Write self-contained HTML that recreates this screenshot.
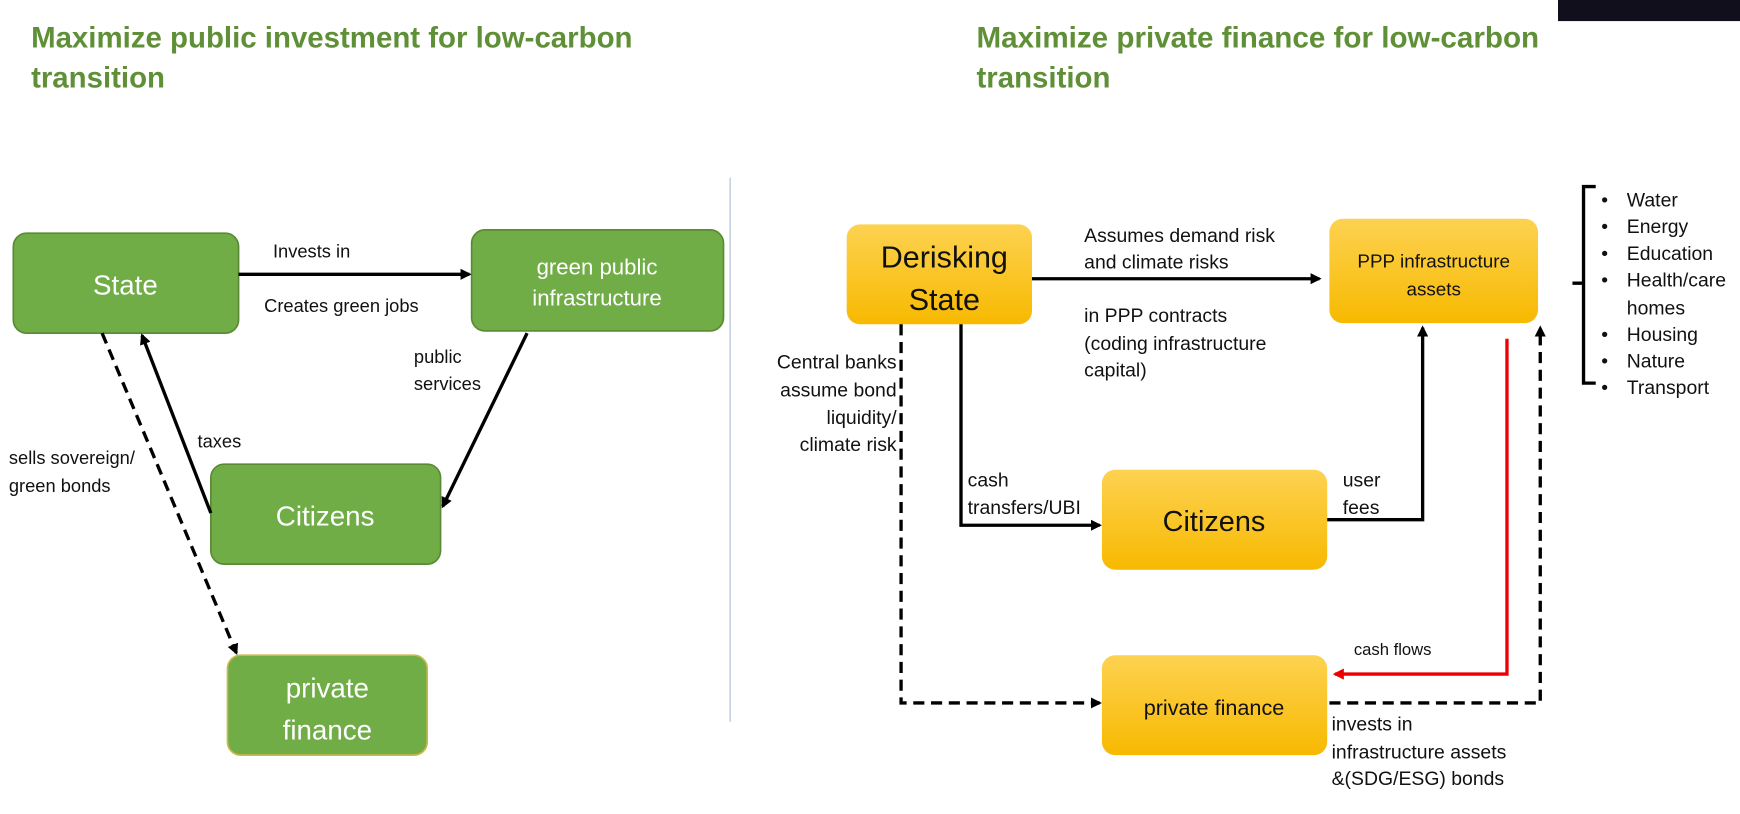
<!DOCTYPE html>
<html><head><meta charset="utf-8"><style>
html,body{margin:0;padding:0;background:#fff;}
svg{display:block;}
text{font-family:"Liberation Sans",sans-serif;}
</style></head><body>
<svg width="1740" height="814" viewBox="0 0 1568 733" preserveAspectRatio="none" xmlns="http://www.w3.org/2000/svg">
<defs>
<linearGradient id="y" x1="0" y1="0" x2="0" y2="1"><stop offset="0" stop-color="#fdd251"/><stop offset="1" stop-color="#f7b900"/></linearGradient>
<marker id="a" markerWidth="10" markerHeight="10" refX="8" refY="5" orient="auto" markerUnits="userSpaceOnUse"><path d="M0,0 L10,5 L0,10 z" fill="#000"/></marker>
<marker id="r" markerWidth="10" markerHeight="10" refX="8" refY="5" orient="auto" markerUnits="userSpaceOnUse"><path d="M0,0 L10,5 L0,10 z" fill="#e00"/></marker>
</defs>
<rect x="1404" y="0" width="164" height="19" fill="#120f1c"/>
<g fill="#5f8f36" font-weight="bold" font-size="26.5">
<text x="28" y="43" textLength="542" lengthAdjust="spacingAndGlyphs">Maximize public investment for low-carbon</text>
<text x="28" y="79">transition</text>
<text x="880" y="43" textLength="507" lengthAdjust="spacingAndGlyphs">Maximize private finance for low-carbon</text>
<text x="880" y="79">transition</text>
</g>
<line x1="658" y1="160" x2="658" y2="650" stroke="#c8d3e0" stroke-width="1.5"/>
<g fill="#70ad47" stroke="#5a8a35" stroke-width="1.5">
<rect x="12" y="210" width="203" height="90" rx="12"/>
<rect x="425" y="207" width="227" height="91" rx="12"/>
<rect x="190" y="418" width="207" height="90" rx="12"/>
<rect x="205" y="590" width="180" height="90" rx="12" stroke="#c9b84a"/>
</g>
<g fill="#fff" text-anchor="middle" font-size="25">
<text x="113" y="265">State</text>
<text x="538" y="247" font-size="20">green public</text>
<text x="538" y="275" font-size="20">infrastructure</text>
<text x="293" y="473">Citizens</text>
<text x="295" y="628">private</text>
<text x="295" y="666">finance</text>
</g>
<g stroke="#000" stroke-width="3" fill="none">
<line x1="215" y1="247" x2="423" y2="247" marker-end="url(#a)"/>
<line x1="475" y1="300" x2="399" y2="456" marker-end="url(#a)"/>
<line x1="190" y1="462" x2="128" y2="302" marker-end="url(#a)"/>
<line x1="92" y1="300" x2="213" y2="588" stroke-dasharray="10,6" marker-end="url(#a)"/>
</g>
<g font-size="16.5" fill="#111">
<text x="246" y="232">Invests in</text>
<text x="238" y="281">Creates green jobs</text>
<text x="373" y="327">public</text>
<text x="373" y="351">services</text>
<text x="178" y="403">taxes</text>
<text x="8" y="418">sells sovereign/</text>
<text x="8" y="443">green bonds</text>
</g>
<g fill="url(#y)">
<rect x="763" y="202" width="167" height="90" rx="12"/>
<rect x="1198" y="197" width="188" height="94" rx="12"/>
<rect x="993" y="423" width="203" height="90" rx="12"/>
<rect x="993" y="590" width="203" height="90" rx="12"/>
</g>
<g fill="#111" text-anchor="middle">
<text x="851" y="241" font-size="27.5">Derisking</text>
<text x="851" y="279" font-size="27.5">State</text>
<text x="1292" y="241" font-size="17">PPP infrastructure</text>
<text x="1292" y="266" font-size="17">assets</text>
<text x="1094" y="478" font-size="26">Citizens</text>
<text x="1094" y="644" font-size="19.5">private finance</text>
</g>
<g stroke="#000" stroke-width="3" fill="none">
<line x1="930" y1="251" x2="1189" y2="251" marker-end="url(#a)"/>
<polyline points="866,292 866,473 991,473" marker-end="url(#a)"/>
<polyline points="1196,468 1282,468 1282,295" marker-end="url(#a)"/>
<polyline points="812,292 812,633 991,633" stroke-dasharray="10,6" marker-end="url(#a)"/>
<polyline points="1198,633 1388,633 1388,295" stroke-dasharray="10,6" marker-end="url(#a)"/>
</g>
<polyline points="1358,305 1358,607 1203,607" stroke="#e00" stroke-width="3" fill="none" marker-end="url(#r)"/>
<g font-size="17.5" fill="#111">
<text x="977" y="218">Assumes demand risk</text>
<text x="977" y="242">and climate risks</text>
<text x="977" y="290">in PPP contracts</text>
<text x="977" y="315">(coding infrastructure</text>
<text x="977" y="339">capital)</text>
<text x="872" y="438">cash</text>
<text x="872" y="463">transfers/UBI</text>
<text x="1210" y="438">user</text>
<text x="1210" y="463">fees</text>
<text x="1220" y="590" font-size="15">cash flows</text>
<text x="1200" y="658">invests in</text>
<text x="1200" y="683">infrastructure assets</text>
<text x="1200" y="707">&amp;(SDG/ESG) bonds</text>
<g text-anchor="end">
<text x="808" y="332">Central banks</text>
<text x="808" y="357">assume bond</text>
<text x="808" y="382">liquidity/</text>
<text x="808" y="406">climate  risk</text>
</g>
</g>
<path d="M1438,168 L1427,168 L1427,255 L1417,255 M1427,255 L1427,345 L1438,345" stroke="#000" stroke-width="3" fill="none"/>
<g font-size="17.5" fill="#111">
<text x="1443" y="186">•</text><text x="1466" y="186">Water</text>
<text x="1443" y="210">•</text><text x="1466" y="210">Energy</text>
<text x="1443" y="234">•</text><text x="1466" y="234">Education</text>
<text x="1443" y="258">•</text><text x="1466" y="258">Health/care</text>
<text x="1466" y="283">homes</text>
<text x="1443" y="307">•</text><text x="1466" y="307">Housing</text>
<text x="1443" y="331">•</text><text x="1466" y="331">Nature</text>
<text x="1443" y="355">•</text><text x="1466" y="355">Transport</text>
</g>
</svg>
</body></html>
